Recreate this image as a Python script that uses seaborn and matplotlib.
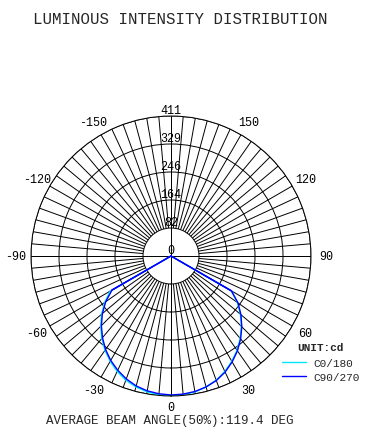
import numpy as np
import matplotlib
matplotlib.use("Agg")
import matplotlib.pyplot as plt
import seaborn as sns
from matplotlib.lines import Line2D

# gamma angles (deg), 0 = straight down
angles = [-90, -60, -55, -50, -45, -40, -35, -30, -25, -20, -15, -10, -5,
          0, 5, 10, 15, 20, 25, 30, 35, 40, 45, 50, 55, 60, 90]
c0_180 = [0, 206, 238, 266, 292, 316, 338, 357, 374, 388, 398, 405, 409,
          411, 409, 405, 398, 388, 374, 357, 338, 316, 292, 266, 238, 204, 0]
c90_270 = [0, 200, 234, 263, 289, 313, 335, 354, 370, 384, 395, 402, 406,
           408, 407, 404, 398, 389, 376, 359, 340, 318, 294, 268, 240, 205, 0]

r_ticks = [82.2, 164.4, 246.6, 328.8, 411]
r_labels = ["0", "82", "164", "246", "329", "411"]
angle_labels = [0, 30, 60, 90, 120, 150, -150, -120, -90, -60, -30]
beam_angle = 119.4

sns.set_style("white")
plt.rcParams['font.family'] = ['Liberation Mono', 'DejaVu Sans']
mono = 'Liberation Mono'

W, H = 366, 431
fig = plt.figure(figsize=(W / 100, H / 100), dpi=100)
cx, cy, R = 171, 257, 140
ax = fig.add_axes([(cx - R) / W, (H - cy - R) / H, 2 * R / W, 2 * R / H],
                  projection='polar')
ax.set_theta_zero_location('S')
ax.set_theta_direction(1)
rmax = r_ticks[-1]
ax.set_ylim(0, rmax)

ax.set_xticks([])
ax.set_yticks(r_ticks)
ax.set_yticklabels([])
ax.yaxis.grid(True, color='black', lw=0.7)
ax.spines['polar'].set_color('black')
ax.spines['polar'].set_linewidth(0.7)

# radial spokes every 5 deg outside the first ring, axes lines through center
spokes = np.deg2rad(np.arange(0, 360, 5))
ax.vlines(spokes, r_ticks[0], rmax, color='black', lw=0.7)
ax.vlines(np.deg2rad([0, 90, 180, 270]), 0, rmax, color='black', lw=0.7)

th = np.deg2rad(angles)
sns.lineplot(x=th, y=c0_180, ax=ax, sort=False, estimator=None,
             color='#00e8ff', lw=1.0, legend=False)
sns.lineplot(x=th, y=c90_270, ax=ax, sort=False, estimator=None,
             color='#0000ff', lw=1.0, legend=False)
for i in (1, len(angles) - 2):
    ax.plot([th[i], th[i]], [0, c90_270[i]], color='#0000ff', lw=1.0)

# radial value labels along the top
for lab, r in zip(r_labels, [0] + r_ticks):
    ax.text(np.pi, r, lab, ha='center', va='bottom', fontsize=8.5,
            family=mono, color='black')

# angle labels
for a in angle_labels:
    rr = 442 if a == 0 else 455
    ax.text(np.deg2rad(a), rr, str(a), ha='center', va='center',
            fontsize=8.5, family=mono, color='black', clip_on=False)

ax.set_xlabel("")
ax.set_ylabel("")

fig.text(33 / W, 1 - 19 / H, "LUMINOUS INTENSITY DISTRIBUTION",
         ha='left', va='center', fontsize=11.3, family=mono)
fig.text(170 / W, 1 - 421 / H,
         f"AVERAGE BEAM ANGLE(50%):{beam_angle} DEG",
         ha='center', va='center', fontsize=9, family=mono)
fig.text(297 / W, 1 - 348 / H, "UNIT:cd", ha='left', va='center',
         fontsize=8, family=mono, fontweight='bold')

handles = [Line2D([], [], color='#00e8ff', lw=1.0),
           Line2D([], [], color='#0000ff', lw=1.0)]
fig.legend(handles, ["C0/180", "C90/270"], loc='upper left',
           bbox_to_anchor=(274 / W, 1 - 351 / H), frameon=False,
           prop={'family': mono, 'size': 8}, handlelength=2.2,
           handletextpad=0.6, labelspacing=0.35, borderpad=0.2)

fig.savefig("out.png", dpi=100)
